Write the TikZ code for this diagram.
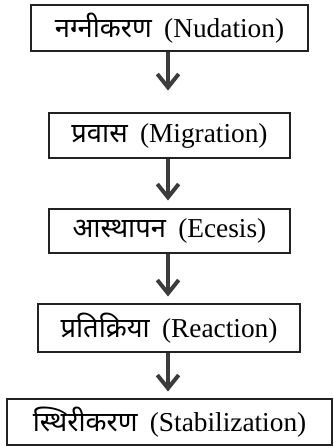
\documentclass[tikz,border=0pt]{standalone}
\usepackage{fontspec}
\setmainfont{Liberation Serif}
\newfontfamily\deva[Script=Devanagari]{Noto Sans}
\usetikzlibrary{arrows.meta}
\definecolor{boxline}{HTML}{222222}
\definecolor{arrowline}{HTML}{3C3C3C}
\newcommand{\stagegap}{\hspace{0.45em}}
\begin{document}
\begin{tikzpicture}[x=0.75pt,y=-0.75pt,
  stage/.style={draw=boxline,line width=2.2pt,inner sep=0pt,font=\fontsize{20.5}{23}\selectfont},
  flow/.style={draw=arrowline,line width=3pt,-{Straight Barb[length=10pt,width=16pt,line width=3pt]}}]
\useasboundingbox (0,0) rectangle (333,446);
% stage boxes, sized by their corners
\node[stage,minimum width=277*0.75pt,minimum height=46*0.75pt] (nud) at (169.5,28) {{\deva नग्नीकरण}\stagegap(Nudation)};
\node[stage,minimum width=241*0.75pt,minimum height=45*0.75pt] (mig) at (169.5,135.5) {{\deva प्रवास}\stagegap(Migration)};
\node[stage,minimum width=241*0.75pt,minimum height=44*0.75pt] (ece) at (169.5,231) {{\deva आस्थापन}\stagegap(Ecesis)};
\node[stage,minimum width=262*0.75pt,minimum height=48*0.75pt] (rea) at (169,328) {{\deva प्रतिक्रिया}\stagegap(Reaction)};
\node[stage,minimum width=325*0.75pt,minimum height=46*0.75pt] (sta) at (169.5,422) {{\deva स्थिरीकरण}\stagegap(Stabilization)};
% arrows between successive stages
\draw[flow,shorten >=21*0.75pt] (nud.south -| 168,0) -- (mig.north -| 168,0);
\draw[flow,shorten >=7*0.75pt] (mig.south -| 168,0) -- (ece.north -| 168,0);
\draw[flow,shorten >=6*0.75pt] (ece.south -| 168,0) -- (rea.north -| 168,0);
\draw[flow,shorten >=6*0.75pt] (rea.south -| 168,0) -- (sta.north -| 168,0);
\end{tikzpicture}
\end{document}
